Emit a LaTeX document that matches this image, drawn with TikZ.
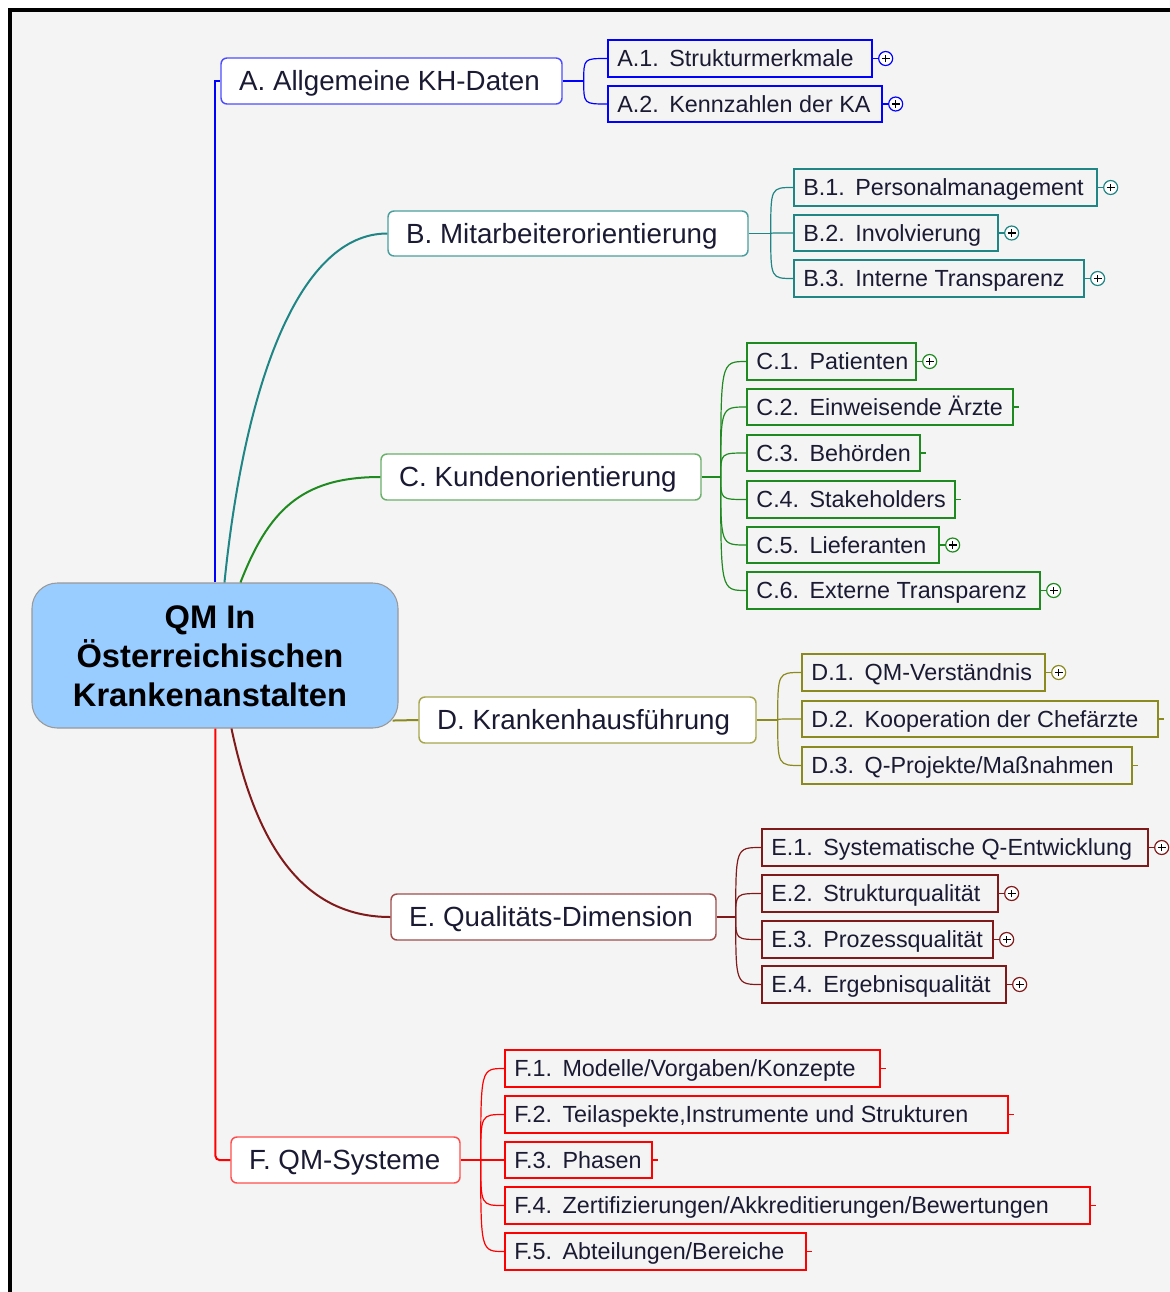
\documentclass[tikz,border=0pt]{standalone}
\usepackage{fontspec}
\setmainfont{Liberation Sans}
\usetikzlibrary{calc}

\definecolor{bgc}{HTML}{F4F4F4}
\definecolor{txt}{HTML}{1A1A33}
\definecolor{cA}{HTML}{0000FF}\definecolor{cAb}{HTML}{4D4DFF}
\definecolor{cB}{HTML}{1F8585}\definecolor{cBb}{HTML}{4A9E9E}
\definecolor{cC}{HTML}{1F8A1F}\definecolor{cCb}{HTML}{6BAF6B}
\definecolor{cD}{HTML}{8A8A1F}\definecolor{cDb}{HTML}{A6A64D}
\definecolor{cE}{HTML}{801A1A}\definecolor{cEb}{HTML}{9E4D4D}
\definecolor{cF}{HTML}{FF0000}\definecolor{cFb}{HTML}{FF4D4D}
\definecolor{cent}{HTML}{99CCFF}

\newcommand\mmgap{\hspace{0.45em}}

% name, x1, y1, x2, y2, colour, text, kind (p = plus, t = tick)
\newcommand\mmsub[8]{%
  \node[subbox=#6, minimum width={(#4-#2)*0.75pt}, minimum height={(#5-#3)*0.75pt}]
    (#1) at ({(#2+#4)/2},{(#3+#5)/2}) {};
  \node[subtext, anchor=west] (#1t) at ([xshift=7.5pt]#1.west) {#7};
  \ifx p#8
    \node[plusc=#6] (#1p) at ([xshift=9.6pt]#1.east) {};
    \draw[#6, line width=0.8pt] (#1.east) -- (#1p.west);
  \else
    \coordinate (#1k) at ([xshift=4pt]#1.east);
    \draw[#6, line width=0.8pt] (#1.east) -- (#1k);
  \fi
}
% name, x1, y1, x2, y2, colour, text
\newcommand\mmmain[7]{%
  \node[mainbox=#6, minimum width={(#4-#2)*0.75pt}, minimum height={(#5-#3)*0.75pt}]
    (#1) at ({(#2+#4)/2},{(#3+#5)/2}) {};
  \node[maintext, anchor=west] (#1t) at ([xshift=14pt]#1.west) {#7};
}

\tikzset{
  mainbox/.style={draw=#1, fill=white, rounded corners=4.5pt, line width=1.1pt, inner sep=0pt},
  subbox/.style={draw=#1, line width=1.3pt, inner sep=0pt},
  maintext/.style={font=\fontsize{20.8}{24}\selectfont, text=txt, inner sep=0pt, text height=14.9pt, text depth=0pt},
  subtext/.style={font=\fontsize{17.5}{20}\selectfont, text=txt, inner sep=0pt, text height=12.5pt, text depth=0pt},
  plusc/.style={circle, draw=#1, fill=white, line width=0.9pt, minimum size=10.5pt, inner sep=0pt,
    path picture={\draw[black, line width=1.1pt]
      ([xshift=-2.9pt]path picture bounding box.center) -- ([xshift=2.9pt]path picture bounding box.center)
      ([yshift=-2.9pt]path picture bounding box.center) -- ([yshift=2.9pt]path picture bounding box.center);}},
  mainline/.style={draw=#1, line width=1.5pt},
  subline/.style={draw=#1, line width=0.9pt},
}

\begin{document}
\begin{tikzpicture}[x=0.75pt, y=-0.75pt]
\useasboundingbox (0,0) rectangle (1170,1292);
\fill[white] (0,0) rectangle (1170,1292);
\fill[bgc] (10,10) rectangle (1170,1292);
\fill[black] (8,8) rectangle (1170,12);
\fill[black] (8,8) rectangle (12,1292);

% central node
\node[draw=gray!80, fill=cent, rounded corners=19pt, line width=0.8pt,
      minimum width={366*0.75pt}, minimum height={145*0.75pt}, inner sep=0pt,
      align=center, font=\bfseries\fontsize{24.5}{29.3}\selectfont]
  (Z) at (215,655.5) {};
\node[align=center, font=\bfseries\fontsize{24.5}{29.3}\selectfont, inner sep=0pt]
  (Zt) at (210,656) {QM In\\Österreichischen\\Krankenanstalten};

% main branches
\mmmain{A}{221}{58}{562}{104}{cAb}{A. Allgemeine KH-Daten}
\mmmain{B}{388}{211}{748}{256}{cBb}{B. Mitarbeiterorientierung}
\mmmain{C}{381}{454}{701}{500}{cCb}{C. Kundenorientierung}
\mmmain{D}{419}{697}{756}{743}{cDb}{D. Krankenhausführung}
\mmmain{E}{391}{894}{716}{940}{cEb}{E. Qualitäts-Dimension}
\mmmain{F}{231}{1137}{460}{1183}{cFb}{F. QM-Systeme}

% main connectors
\draw[mainline=cA] ($(Z.north west)+(184,0)$) |- (A.west);
\draw[mainline=cB] ($(Z.north west)+(193,0)$) .. controls (245,380) and (300,233.5) .. (B.west);
\draw[mainline=cC] ($(Z.north west)+(209,0)$) .. controls (268,512) and (300,477) .. (C.west);
\draw[mainline=cD] ($(Z.south east)+(-6,-8)$) -- (D.west);
\draw[mainline=cE] ($(Z.south west)+(200,0)$) .. controls (255,840) and (300,917) .. (E.west);
\draw[mainline=cF, rounded corners=3pt] ($(Z.south west)+(184,0)$) |- (F.west);

% sub topics
\mmsub{A1}{608}{40}{872}{77}{cA}{A.1.\mmgap Strukturmerkmale}{p}
\mmsub{A2}{608}{86}{882}{122}{cA}{A.2.\mmgap Kennzahlen der KA}{p}

\mmsub{B1}{794}{169}{1097}{206}{cB}{B.1.\mmgap Personalmanagement}{p}
\mmsub{B2}{794}{215}{998}{251}{cB}{B.2.\mmgap Involvierung}{p}
\mmsub{B3}{794}{260}{1084}{297}{cB}{B.3.\mmgap Interne Transparenz}{p}

\mmsub{C1}{747}{343}{916}{380}{cC}{C.1.\mmgap Patienten}{p}
\mmsub{C2}{747}{389}{1013}{425}{cC}{C.2.\mmgap Einweisende Ärzte}{t}
\mmsub{C3}{747}{435}{920}{471}{cC}{C.3.\mmgap Behörden}{t}
\mmsub{C4}{747}{481}{955}{518}{cC}{C.4.\mmgap Stakeholders}{t}
\mmsub{C5}{747}{527}{939}{563}{cC}{C.5.\mmgap Lieferanten}{p}
\mmsub{C6}{747}{572}{1040}{609}{cC}{C.6.\mmgap Externe Transparenz}{p}

\mmsub{D1}{802}{654}{1045}{691}{cD}{D.1.\mmgap QM-Verständnis}{p}
\mmsub{D2}{802}{701}{1158}{737}{cD}{D.2.\mmgap Kooperation der Chefärzte}{t}
\mmsub{D3}{802}{747}{1132}{784}{cD}{D.3.\mmgap Q-Projekte/Maßnahmen}{t}

\mmsub{E1}{762}{829}{1148}{866}{cE}{E.1.\mmgap Systematische Q-Entwicklung}{p}
\mmsub{E2}{762}{875}{998}{912}{cE}{E.2.\mmgap Strukturqualität}{p}
\mmsub{E3}{762}{921}{993}{958}{cE}{E.3.\mmgap Prozessqualität}{p}
\mmsub{E4}{762}{966}{1006}{1003}{cE}{E.4.\mmgap Ergebnisqualität}{p}

\mmsub{F1}{505}{1050}{880}{1087}{cF}{F.1.\mmgap Modelle/Vorgaben/Konzepte}{t}
\mmsub{F2}{505}{1096}{1008}{1133}{cF}{F.2.\mmgap Teilaspekte,Instrumente und Strukturen}{t}
\mmsub{F3}{505}{1142}{652}{1178}{cF}{F.3.\mmgap Phasen}{t}
\mmsub{F4}{505}{1187}{1090}{1224}{cF}{F.4.\mmgap Zertifizierungen/Akkreditierungen/Bewertungen}{t}
\mmsub{F5}{505}{1233}{806}{1270}{cF}{F.5.\mmgap Abteilungen/Bereiche}{t}

% sub connectors
\coordinate (Aj) at ($(A.east)+(21,0)$);
\coordinate (Bj) at ($(B.east)+(22,0)$);
\coordinate (Cj) at ($(C.east)+(19,0)$);
\coordinate (Dj) at ($(D.east)+(21,0)$);
\coordinate (Ej) at ($(E.east)+(19,0)$);
\coordinate (Fj) at ($(F.east)+(20,0)$);
\draw[subline=cA] (A.east) -- (Aj);
\draw[subline=cB] (B.east) -- (Bj);
\draw[subline=cC] (C.east) -- (Cj);
\draw[subline=cD] (D.east) -- (Dj);
\draw[subline=cE] (E.east) -- (Ej);
\draw[subline=cF] (F.east) -- (Fj);
\foreach \c in {A1,A2} \draw[subline=cA] (Aj) .. controls (Aj |- \c.west) .. (\c.west);
\foreach \c in {B1,B2,B3} \draw[subline=cB] (Bj) .. controls (Bj |- \c.west) .. (\c.west);
\foreach \c in {C1,C2,C3,C4,C5,C6} \draw[subline=cC] (Cj) .. controls (Cj |- \c.west) .. (\c.west);
\foreach \c in {D1,D2,D3} \draw[subline=cD] (Dj) .. controls (Dj |- \c.west) .. (\c.west);
\foreach \c in {E1,E2,E3,E4} \draw[subline=cE] (Ej) .. controls (Ej |- \c.west) .. (\c.west);
\foreach \c in {F1,F2,F3,F4,F5} \draw[subline=cF] (Fj) .. controls (Fj |- \c.west) .. (\c.west);
\end{tikzpicture}
\end{document}
